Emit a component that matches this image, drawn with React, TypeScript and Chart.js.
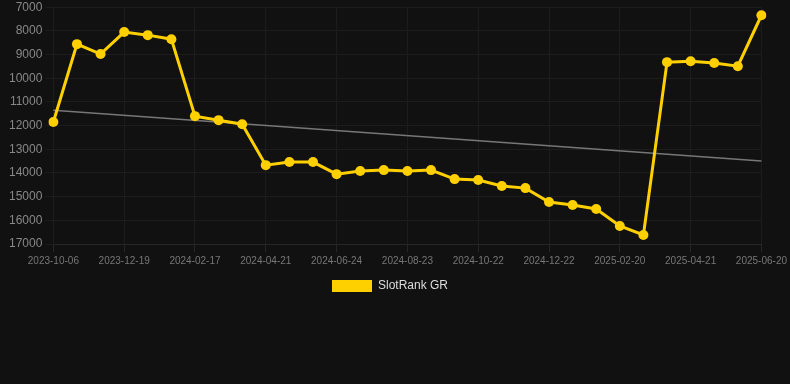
import React, { useEffect, useRef } from "react";
import { Chart, registerables } from "chart.js";

Chart.register(...registerables);

const labels: string[] = [
  "2023-10-06", "2023-10-30", "2023-11-24", "2023-12-19", "2024-01-08", "2024-01-28",
  "2024-02-17", "2024-03-08", "2024-03-30", "2024-04-21", "2024-05-12", "2024-06-02",
  "2024-06-24", "2024-07-14", "2024-08-03", "2024-08-23", "2024-09-12", "2024-10-02",
  "2024-10-22", "2024-11-11", "2024-12-01", "2024-12-22", "2025-01-11", "2025-01-31",
  "2025-02-20", "2025-03-12", "2025-04-01", "2025-04-21", "2025-05-11", "2025-05-31",
  "2025-06-20",
];

const rankValues: number[] = [
  11850, 8560, 8980, 8050, 8180, 8350,
  11600, 11770, 11940, 13670, 13540, 13540,
  14050, 13920, 13880, 13920, 13880, 14260,
  14300, 14550, 14640, 15230, 15350, 15520,
  16240, 16620, 9320, 9280, 9360, 9490,
  7340,
];

const trendStart = 11350;
const trendEnd = 13500;

const FONT = "Arial, 'Liberation Sans', Helvetica, sans-serif";

const legendShift = {
  id: "legendShift",
  afterLayout(chart: any) {
    const lg = chart.legend;
    if (lg) {
      lg.left -= 6;
      lg.right -= 6;
      if (typeof lg.adjustHitBoxes === "function") lg.adjustHitBoxes();
    }
  },
};

export default function App() {
  const ref = useRef<HTMLCanvasElement | null>(null);

  useEffect(() => {
    document.body.style.margin = "0";
    document.body.style.background = "#111111";
    if (!ref.current) return;
    const trend: (number | null)[] = labels.map((_, i) =>
      i === 0 ? trendStart : i === labels.length - 1 ? trendEnd : null
    );
    const chart = new Chart(ref.current, {
      type: "line",
      data: {
        labels,
        datasets: [
          {
            label: "SlotRank GR",
            data: rankValues,
            borderColor: "#FFD000",
            backgroundColor: "#FFD000",
            borderWidth: 3,
            pointRadius: 5,
            pointBorderWidth: 0,
            pointHoverRadius: 5,
            pointBackgroundColor: "#FFD000",
            pointBorderColor: "#FFD000",
            tension: 0,
          },
          {
            label: "trend",
            data: trend,
            borderColor: "#777777",
            backgroundColor: "#777777",
            borderWidth: 1.5,
            pointRadius: 0,
            spanGaps: true,
            tension: 0,
          },
        ],
      },
      options: {
        animation: false,
        responsive: true,
        maintainAspectRatio: false,
        layout: { padding: { left: 6, right: 4, top: 0 } },
        plugins: {
          legend: {
            position: "bottom",
            labels: {
              color: "#dddddd",
              font: { family: FONT, size: 12 },
              boxWidth: 40,
              boxHeight: 12,
              filter: (item) => {
                item.lineWidth = 0;
                return item.text !== "trend";
              },
            },
          },
          tooltip: { enabled: false },
        },
        scales: {
          x: {
            grid: { color: "#1c1c1c", tickColor: "#262626" },
            border: { color: "#262626" },
            ticks: {
              color: "#777777",
              font: { family: FONT, size: 10 },
              maxRotation: 0,
              autoSkip: false,
              callback: function (_v, i) {
                return i % 3 === 0 ? labels[i] : null;
              },
            },
          },
          y: {
            reverse: true,
            min: 7000,
            max: 17000,
            grid: { color: "#1c1c1c" },
            border: { color: "#1c1c1c" },
            ticks: {
              stepSize: 1000,
              color: "#888888",
              font: { family: FONT, size: 12, lineHeight: 0.7 },
              callback: (v) => String(v),
            },
          },
        },
      },
      plugins: [legendShift],
    });
    return () => chart.destroy();
  }, []);

  return (
    <div style={{ width: 790, height: 302, background: "#111111" }}>
      <canvas ref={ref} />
    </div>
  );
}
